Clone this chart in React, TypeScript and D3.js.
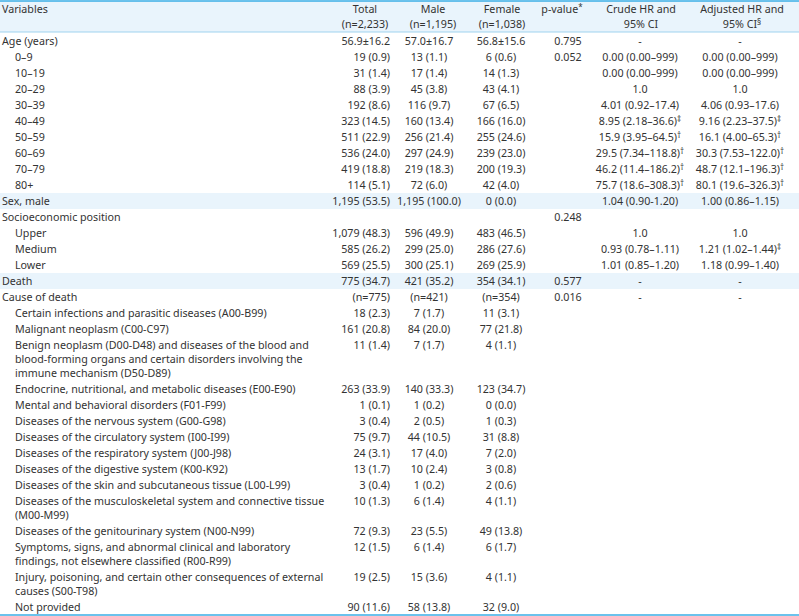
import React, { useEffect, useRef } from 'react';
import * as d3 from 'd3';

// Table content (one entry per row)
const variableLabels: string[][] = [
  ['Age (years)'],
  ['0–9'], ['10–19'], ['20–29'], ['30–39'], ['40–49'], ['50–59'], ['60–69'], ['70–79'], ['80+'],
  ['Sex, male'],
  ['Socioeconomic position'],
  ['Upper'], ['Medium'], ['Lower'],
  ['Death'],
  ['Cause of death'],
  ['Certain infections and parasitic diseases (A00-B99)'],
  ['Malignant neoplasm (C00-C97)'],
  ['Benign neoplasm (D00-D48) and diseases of the blood and', 'blood-forming organs and certain disorders involving the', 'immune mechanism (D50-D89)'],
  ['Endocrine, nutritional, and metabolic diseases (E00-E90)'],
  ['Mental and behavioral disorders (F01-F99)'],
  ['Diseases of the nervous system (G00-G98)'],
  ['Diseases of the circulatory system (I00-I99)'],
  ['Diseases of the respiratory system (J00-J98)'],
  ['Diseases of the digestive system (K00-K92)'],
  ['Diseases of the skin and subcutaneous tissue (L00-L99)'],
  ['Diseases of the musculoskeletal system and connective tissue', '(M00-M99)'],
  ['Diseases of the genitourinary system (N00-N99)'],
  ['Symptoms, signs, and abnormal clinical and laboratory', 'findings, not elsewhere classified (R00-R99)'],
  ['Injury, poisoning, and certain other consequences of external', 'causes (S00-T98)'],
  ['Not provided'],
];

const indentLevels: number[] = [
  0, 1, 1, 1, 1, 1, 1, 1, 1, 1, 0, 0, 1, 1, 1, 0, 0,
  1, 1, 1, 1, 1, 1, 1, 1, 1, 1, 1, 1, 1, 1, 1,
];

const totalValues: string[] = [
  '56.9±16.2', '19 (0.9)', '31 (1.4)', '88 (3.9)', '192 (8.6)', '323 (14.5)', '511 (22.9)', '536 (24.0)', '419 (18.8)', '114 (5.1)',
  '1,195 (53.5)', '', '1,079 (48.3)', '585 (26.2)', '569 (25.5)', '775 (34.7)', '(n=775)',
  '18 (2.3)', '161 (20.8)', '11 (1.4)', '263 (33.9)', '1 (0.1)', '3 (0.4)', '75 (9.7)', '24 (3.1)', '13 (1.7)', '3 (0.4)', '10 (1.3)', '72 (9.3)', '12 (1.5)', '19 (2.5)', '90 (11.6)',
];

const maleValues: string[] = [
  '57.0±16.7', '13 (1.1)', '17 (1.4)', '45 (3.8)', '116 (9.7)', '160 (13.4)', '256 (21.4)', '297 (24.9)', '219 (18.3)', '72 (6.0)',
  '1,195 (100.0)', '', '596 (49.9)', '299 (25.0)', '300 (25.1)', '421 (35.2)', '(n=421)',
  '7 (1.7)', '84 (20.0)', '7 (1.7)', '140 (33.3)', '1 (0.2)', '2 (0.5)', '44 (10.5)', '17 (4.0)', '10 (2.4)', '1 (0.2)', '6 (1.4)', '23 (5.5)', '6 (1.4)', '15 (3.6)', '58 (13.8)',
];

const femaleValues: string[] = [
  '56.8±15.6', '6 (0.6)', '14 (1.3)', '43 (4.1)', '67 (6.5)', '166 (16.0)', '255 (24.6)', '239 (23.0)', '200 (19.3)', '42 (4.0)',
  '0 (0.0)', '', '483 (46.5)', '286 (27.6)', '269 (25.9)', '354 (34.1)', '(n=354)',
  '11 (3.1)', '77 (21.8)', '4 (1.1)', '123 (34.7)', '0 (0.0)', '1 (0.3)', '31 (8.8)', '7 (2.0)', '3 (0.8)', '2 (0.6)', '4 (1.1)', '49 (13.8)', '6 (1.7)', '4 (1.1)', '32 (9.0)',
];

const pValues: string[] = [
  '0.795', '0.052', '', '', '', '', '', '', '', '',
  '', '0.248', '', '', '', '0.577', '0.016',
];

const crudeHR: string[] = [
  '-', '0.00 (0.00–999)', '0.00 (0.00–999)', '1.0', '4.01 (0.92–17.4)', '8.95 (2.18–36.6)‡', '15.9 (3.95–64.5)†', '29.5 (7.34–118.8)†', '46.2 (11.4–186.2)†', '75.7 (18.6–308.3)†',
  '1.04 (0.90-1.20)', '', '1.0', '0.93 (0.78–1.11)', '1.01 (0.85–1.20)', '-', '-',
];

const adjustedHR: string[] = [
  '-', '0.00 (0.00–999)', '0.00 (0.00–999)', '1.0', '4.06 (0.93–17.6)', '9.16 (2.23–37.5)‡', '16.1 (4.00–65.3)†', '30.3 (7.53–122.0)†', '48.7 (12.1–196.3)†', '80.1 (19.6–326.3)†',
  '1.00 (0.86–1.15)', '', '1.0', '1.21 (1.02–1.44)‡', '1.18 (0.99–1.40)', '-', '-',
];

const headerLines: string[][] = [
  ['Variables'],
  ['Total', '(n=2,233)'],
  ['Male', '(n=1,195)'],
  ['Female', '(n=1,038)'],
  ['p-value*'],
  ['Crude HR and', '95% CI'],
  ['Adjusted HR and', '95% CI§'],
];

const shadedRows: string[] = ['Sex, male', 'Death'];

const App: React.FC = () => {
  const svgRef = useRef<SVGSVGElement>(null);

  useEffect(() => {
    document.body.style.margin = '0';
    if (!svgRef.current) return;
    const svg = d3.select(svgRef.current);
    svg.selectAll('*').remove();

    const width = 799;
    const fontFamily = '"Noto Sans", sans-serif';
    const fontSize = 10.7;
    const textColor = '#333333';
    const accent = '#3aaee6';
    const shade = '#e9f4fc';

    const headTop = 1;
    const headBottom = 32;
    const lineH = 14;
    const pad = 1;

    // column anchors
    const cols = [
      { x: 2, anchor: 'start', hx: 2, hanchor: 'start' },
      { x: 390, anchor: 'end', hx: 365, hanchor: 'middle' },
      { x: 429, anchor: 'middle', hx: 433, hanchor: 'middle' },
      { x: 501, anchor: 'middle', hx: 502, hanchor: 'middle' },
      { x: 568, anchor: 'middle', hx: 562, hanchor: 'middle' },
      { x: 640, anchor: 'middle', hx: 641, hanchor: 'middle' },
      { x: 740, anchor: 'middle', hx: 742, hanchor: 'middle' },
    ];

    // row positions
    const rowTops: number[] = [];
    const rowHeights: number[] = [];
    let y = headBottom + 1;
    variableLabels.forEach((lines) => {
      const h = lines.length * lineH + pad * 2;
      rowTops.push(y);
      rowHeights.push(h);
      y += h;
    });
    const tableBottom = y;

    const writeCell = (
      g: d3.Selection<SVGGElement, unknown, null, undefined>,
      str: string,
      x: number,
      cy: number,
      anchor: string
    ) => {
      if (!str) return;
      const m = str.match(/^(.*?)([*†‡§])$/);
      const t = g.append('text')
        .attr('x', x)
        .attr('y', cy)
        .attr('dy', '0.35em')
        .attr('text-anchor', anchor)
        .attr('font-family', fontFamily)
        .attr('font-size', fontSize)
        .attr('fill', textColor);
      if (m) {
        t.append('tspan').text(m[1]);
        t.append('tspan').text(m[2]).attr('font-size', 8).attr('dy', '-0.4em');
      } else {
        t.text(str);
      }
    };

    // header band
    svg.append('rect')
      .attr('x', 0).attr('y', headTop)
      .attr('width', width).attr('height', headBottom - headTop)
      .attr('fill', shade);
    svg.append('line')
      .attr('x1', 0).attr('x2', width)
      .attr('y1', headTop).attr('y2', headTop)
      .attr('stroke', accent).attr('stroke-width', 1.5);
    svg.append('line')
      .attr('x1', 0).attr('x2', width)
      .attr('y1', headBottom).attr('y2', headBottom)
      .attr('stroke', '#9fd3ef').attr('stroke-width', 1);

    const head = svg.append('g');
    headerLines.forEach((lines, ci) => {
      lines.forEach((ln, li) => {
        writeCell(head, ln, cols[ci].hx, 9 + li * 15, cols[ci].hanchor);
      });
    });

    // shaded rows
    const body = svg.append('g');
    variableLabels.forEach((lines, i) => {
      if (shadedRows.includes(lines[0])) {
        body.append('rect')
          .attr('x', 0).attr('y', rowTops[i])
          .attr('width', width).attr('height', rowHeights[i])
          .attr('fill', shade);
      }
    });

    const valueCols = [totalValues, maleValues, femaleValues, pValues, crudeHR, adjustedHR];
    variableLabels.forEach((lines, i) => {
      const firstY = rowTops[i] + pad + lineH / 2;
      lines.forEach((ln, li) => {
        writeCell(body, ln, cols[0].x + indentLevels[i] * 13, firstY + li * lineH, 'start');
      });
      valueCols.forEach((arr, ci) => {
        writeCell(body, arr[i] || '', cols[ci + 1].x, firstY, cols[ci + 1].anchor);
      });
    });

    svg.append('line')
      .attr('x1', 0).attr('x2', width)
      .attr('y1', tableBottom).attr('y2', tableBottom)
      .attr('stroke', accent).attr('stroke-width', 1.5);
  }, []);

  return <svg ref={svgRef} width={799} height={616} style={{ display: 'block' }} />;
};

export default App;
